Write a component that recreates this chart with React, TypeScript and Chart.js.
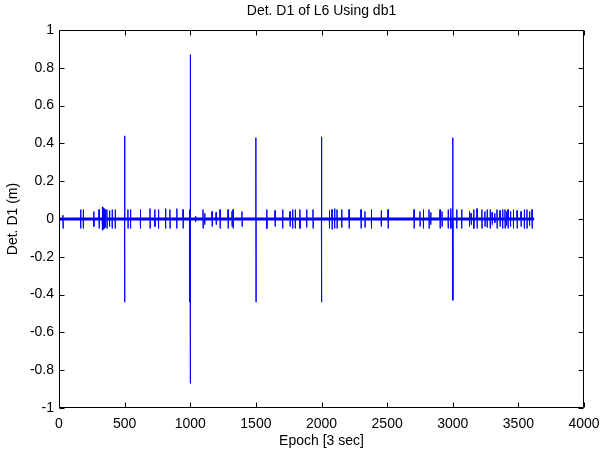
import React, { useEffect, useRef } from "react";
import { Chart, registerables } from "chart.js";

Chart.register(...registerables);

const chartTitle = "Det. D1 of L6 Using db1";
const xTitle = "Epoch [3 sec]";
const yTitle = "Det. D1 (m)";

// Detail coefficient events (epoch, first value, second value); all other epochs ~0
const eventEpoch = [
  3, 30, 165, 185, 265, 305, 330, 338, 345, 352, 365, 385, 405, 428, 500, 525, 545, 620, 693, 730,
  758, 812, 845, 897, 945, 995, 1000, 1040, 1097, 1110, 1166, 1197, 1227, 1288, 1318, 1326, 1394, 1500,
  1583, 1646, 1704, 1760, 1780, 1800, 1835, 1887, 1935, 2000, 2060, 2080, 2100, 2118, 2154, 2210,
  2301, 2331, 2380, 2455, 2507, 2705, 2750, 2776, 2819, 2832, 2903, 2918, 2965, 2985, 3000, 3030,
  3068, 3127, 3140, 3160, 3185, 3222, 3245, 3262, 3285, 3300, 3320, 3337, 3360, 3380, 3398, 3410,
  3421, 3440, 3462, 3490, 3520, 3545, 3565, 3585, 3604,
];
const eventFirst = [
  0.05, 0.02, 0.05, 0.05, 0.04, 0.05, 0.065, 0.06, 0.055, 0.05, 0.05, 0.045, 0.05, 0.05, 0.44, 0.05, 0.05, 0.05, 0.055, 0.05,
  0.05, 0.055, 0.05, 0.055, 0.05, 0.05, 0.87, 0.015, 0.05, 0.03, 0.04, 0.035, 0.05, 0.05, 0.04, 0.05, 0.04, 0.43,
  0.05, 0.045, 0.05, 0.04, 0.05, 0.05, 0.05, 0.05, 0.05, 0.435, 0.045, 0.05, 0.055, 0.05, 0.05, 0.05,
  0.05, 0.04, 0.05, 0.045, 0.05, 0.05, 0.04, 0.05, 0.05, 0.035, 0.05, 0.04, 0.05, 0.055, 0.43, 0.05,
  0.05, 0.04, 0.03, 0.05, 0.055, 0.05, 0.04, 0.05, 0.05, 0.035, 0.03, 0.05, 0.045, 0.05, 0.05, 0.04,
  0.05, 0.04, 0.05, 0.045, 0.04, 0.05, 0.05, 0.04, 0.05,
];
const eventSecond = [
  -0.05, -0.05, -0.05, -0.05, -0.04, -0.05, -0.06, -0.055, -0.05, -0.045, -0.05, -0.04, -0.05, -0.05, -0.44, -0.05, -0.05, -0.05, -0.05, -0.04,
  -0.05, -0.05, -0.05, -0.05, -0.05, -0.44, -0.87, -0.015, -0.05, -0.03, -0.04, -0.03, -0.05, -0.05, -0.04, -0.05, -0.04, -0.44,
  -0.05, -0.04, -0.05, -0.04, -0.05, -0.05, -0.05, -0.045, -0.05, -0.44, -0.05, -0.055, -0.05, -0.05, -0.045, -0.05,
  -0.05, -0.045, -0.05, -0.04, -0.05, -0.05, -0.04, -0.05, -0.05, -0.03, -0.05, -0.04, -0.05, -0.05, -0.43, -0.05,
  -0.05, -0.04, -0.03, -0.05, -0.05, -0.05, -0.04, -0.045, -0.05, -0.03, -0.02, -0.05, -0.04, -0.05, -0.05, -0.035,
  -0.05, -0.04, -0.05, -0.05, -0.04, -0.05, -0.05, -0.035, -0.05,
];
const lastEpoch = 3620;

const xTicks = [0, 500, 1000, 1500, 2000, 2500, 3000, 3500, 4000];
const yTicks = [-1, -0.8, -0.6, -0.4, -0.2, 0, 0.2, 0.4, 0.6, 0.8, 1];

const FONT = "'Liberation Sans', Arial, Helvetica, sans-serif";
const FSIZE = 14;

function buildPoints() {
  const pts: { x: number; y: number }[] = [{ x: 0, y: 0 }];
  eventEpoch.forEach((e, i) => {
    if (e - 1 > pts[pts.length - 1].x) pts.push({ x: e - 1, y: 0 });
    pts.push({ x: e, y: eventFirst[i] });
    pts.push({ x: e + 1, y: eventSecond[i] });
    pts.push({ x: e + 2, y: 0 });
  });
  pts.push({ x: lastEpoch, y: 0 });
  return pts;
}

const boxAndTicks = {
  id: "boxAndTicks",
  afterDraw(chart: any) {
    const { ctx, chartArea, scales } = chart;
    const { left, right, top, bottom } = chartArea;
    const L = 5;
    ctx.save();
    ctx.strokeStyle = "#000";
    ctx.lineWidth = 1;
    ctx.beginPath();
    const l = Math.round(left) + 0.5;
    const r = Math.round(right) - 0.5;
    const t = Math.round(top) + 0.5;
    const b = Math.round(bottom) - 0.5;
    xTicks.forEach((v) => {
      const px = Math.round(scales.x.getPixelForValue(v)) + 0.5;
      ctx.moveTo(px, b);
      ctx.lineTo(px, b - L);
      ctx.moveTo(px, t);
      ctx.lineTo(px, t + L);
    });
    yTicks.forEach((v) => {
      const py = Math.round(scales.y.getPixelForValue(v)) + 0.5;
      ctx.moveTo(l, py);
      ctx.lineTo(l + L, py);
      ctx.moveTo(r, py);
      ctx.lineTo(r - L, py);
    });
    ctx.rect(l, t, r - l, b - t);
    ctx.stroke();
    // title centred over the axes
    ctx.fillStyle = "#000";
    ctx.font = `${FSIZE}px ${FONT}`;
    ctx.textAlign = "center";
    ctx.textBaseline = "middle";
    ctx.fillText(chartTitle, (left + right) / 2, 11);
    ctx.restore();
  },
};

export default function App() {
  const ref = useRef<HTMLCanvasElement>(null);
  useEffect(() => {
    if (!ref.current) return;
    const chart = new Chart(ref.current, {
      type: "line",
      data: {
        datasets: [
          {
            data: buildPoints(),
            borderColor: "#0000ff",
            borderWidth: 1,
            pointRadius: 0,
            tension: 0,
            fill: false,
            segment: {
              borderWidth: (c: any) => (c.p0.parsed.y === 0 && c.p1.parsed.y === 0 ? 3 : 1),
            },
          } as any,
        ],
      },
      options: {
        responsive: false,
        animation: false,
        devicePixelRatio: 1,
        layout: { autoPadding: false, padding: { left: 0, right: 19, top: 30, bottom: 0 } },
        plugins: {
          legend: { display: false },
          tooltip: { enabled: false },
          title: { display: false },
        },
        scales: {
          x: {
            type: "linear",
            min: 0,
            max: 4000,
            afterFit: (s: any) => {
              s.height = 44;
            },
            afterBuildTicks: (s: any) => {
              s.ticks = xTicks.map((v) => ({ value: v }));
            },
            grid: { display: false, drawTicks: true, tickLength: 5 },
            border: { display: false },
            ticks: {
              color: "#000",
              font: { family: FONT, size: FSIZE },
              padding: 3,
              maxRotation: 0,
              autoSkip: false,
              callback: (v: any) => String(v),
            },
            title: {
              display: true,
              text: xTitle,
              color: "#000",
              font: { family: FONT, size: FSIZE },
              padding: { top: 0, bottom: 2 },
            },
          },
          y: {
            type: "linear",
            min: -1,
            max: 1,
            afterFit: (s: any) => {
              s.width = 59;
            },
            afterBuildTicks: (s: any) => {
              s.ticks = yTicks.map((v) => ({ value: v }));
            },
            grid: { display: false, drawTicks: false },
            border: { display: false },
            ticks: {
              color: "#000",
              font: { family: FONT, size: FSIZE },
              padding: 5,
              autoSkip: false,
              callback: (v: any) => String(Math.round(Number(v) * 10) / 10),
            },
            title: {
              display: true,
              text: yTitle,
              color: "#000",
              font: { family: FONT, size: FSIZE },
              padding: { top: 5, bottom: 0 },
            },
          },
        },
      } as any,
      plugins: [boxAndTicks],
    });
    return () => chart.destroy();
  }, []);
  return (
    <div style={{ position: "absolute", left: 0, top: 0, width: 603, height: 452, background: "#fff" }}>
      <canvas ref={ref} width={603} height={452} />
    </div>
  );
}
